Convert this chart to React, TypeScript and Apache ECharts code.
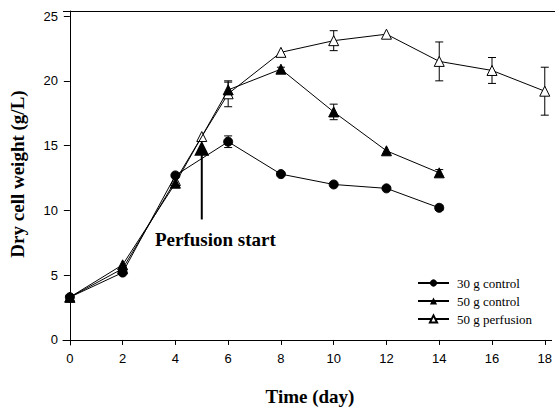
import React, { useEffect, useRef } from "react";
import * as echarts from "echarts";

const xTicks = [0, 2, 4, 6, 8, 10, 12, 14, 16, 18];
const yTicks = [0, 5, 10, 15, 20, 25];

const days30 = [0, 2, 4, 6, 8, 10, 12, 14];
const ctrl30 = [3.3, 5.2, 12.7, 15.3, 12.8, 12.0, 11.7, 10.2];
const ctrl30Err = [0, 0, 0, 0.45, 0, 0, 0, 0.2];

const days50 = [0, 2, 4, 6, 8, 10, 12, 14];
const ctrl50 = [3.3, 5.8, 12.1, 19.3, 20.9, 17.6, 14.6, 12.9];
const ctrl50Err = [0, 0, 0, 0.6, 0.15, 0.6, 0, 0.25];

const daysPerf = [0, 2, 4, 5, 6, 8, 10, 12, 14, 16, 18];
const perf = [3.3, 5.5, 12.3, 15.7, 19.0, 22.2, 23.1, 23.6, 21.5, 20.8, 19.2];
const perfErr = [0, 0, 0, 0, 1.0, 0, 0.77, 0, 1.5, 1.0, 1.85];

const arrowHead: [number, number][] = [[5, 14.8]];
const arrowShaft: [number, number][] = [[5, 14.3], [5, 9.3]];

const seriesNames = ["30 g control", "50 g control", "50 g perfusion"];

const serif = "'Liberation Serif', 'Times New Roman', serif";
const sans = "'Liberation Sans', Arial, sans-serif";

function pts(xs: number[], ys: number[]) {
  return xs.map((x, i) => [x, ys[i]]);
}
function errPts(xs: number[], ys: number[], es: number[]) {
  return xs.map((x, i) => [x, ys[i], es[i]]).filter((d) => d[2] > 0);
}

function errSeries(data: number[][]) {
  return {
    type: "custom",
    silent: true,
    z: 1,
    data,
    renderItem: (params: any, api: any) => {
      const x = api.value(0);
      const y = api.value(1);
      const e = api.value(2);
      const top = api.coord([x, y + e]);
      const bot = api.coord([x, y - e]);
      const w = 4;
      const style = { stroke: "#000", lineWidth: 1 };
      return {
        type: "group",
        children: [
          { type: "line", shape: { x1: top[0], y1: top[1], x2: bot[0], y2: bot[1] }, style },
          { type: "line", shape: { x1: top[0] - w, y1: top[1], x2: top[0] + w, y2: top[1] }, style },
          { type: "line", shape: { x1: bot[0] - w, y1: bot[1], x2: bot[0] + w, y2: bot[1] }, style },
        ],
      };
    },
  };
}

export default function App() {
  const ref = useRef<HTMLDivElement>(null);
  useEffect(() => {
    if (!ref.current) return;
    const chart = echarts.init(ref.current, null, { renderer: "svg" });
    const lineStyle = { color: "#000", width: 1 };
    chart.setOption({
      animation: false,
      backgroundColor: "#fff",
      grid: { left: 63, right: 0, top: 11, bottom: 62 },
      xAxis: {
        type: "value",
        min: -0.26,
        max: 18.26,
        splitLine: { show: false },
        axisLine: { lineStyle: { color: "#000", width: 1 } },
        axisTick: { length: 5, customValues: xTicks, lineStyle: { color: "#000" } },
        axisLabel: { customValues: xTicks, fontFamily: sans, fontSize: 13, color: "#000", margin: 7 },
      },
      yAxis: {
        type: "value",
        min: -0.39,
        max: 25.39,
        splitLine: { show: false },
        axisLine: { show: true, lineStyle: { color: "#000", width: 1 } },
        axisTick: { show: true, length: 6, customValues: yTicks, lineStyle: { color: "#000" } },
        axisLabel: { customValues: yTicks, fontFamily: sans, fontSize: 13, color: "#000", margin: 5 },
      },
      legend: {
        data: seriesNames,
        orient: "vertical",
        left: 417,
        top: 276,
        padding: 0,
        itemWidth: 31,
        itemHeight: 9,
        itemGap: 4,
        textStyle: { fontFamily: serif, fontSize: 13, lineHeight: 14, color: "#000", padding: [0, 0, 0, 3] },
      },
      graphic: [
        {
          type: "line",
          shape: { x1: 63, y1: 11.5, x2: 555, y2: 11.5 },
          style: { stroke: "#000", lineWidth: 1 },
        },
        {
          type: "text",
          left: 155,
          top: 230,
          style: { text: "Perfusion start", font: `bold 19px ${serif}`, fill: "#000" },
        },
        {
          type: "text",
          x: 310,
          y: 396,
          style: { text: "Time (day)", font: `bold 19px ${serif}`, fill: "#000", align: "center", verticalAlign: "middle" },
        },
        {
          type: "text",
          x: 17,
          y: 174,
          rotation: Math.PI / 2,
          style: { text: "Dry cell weight (g/L)", font: `bold 19px ${serif}`, fill: "#000", align: "center", verticalAlign: "middle" },
        },
      ],
      series: [
        {
          name: "50 g perfusion",
          type: "line",
          data: pts(daysPerf, perf),
          symbol: "triangle",
          symbolSize: 10,
          itemStyle: { color: "#fff", borderColor: "#000", borderWidth: 1 },
          lineStyle,
          z: 2,
        },
        {
          name: "50 g control",
          type: "line",
          data: pts(days50, ctrl50),
          symbol: "triangle",
          symbolSize: 10,
          itemStyle: { color: "#000", borderColor: "#000" },
          lineStyle,
          z: 3,
        },
        {
          name: "30 g control",
          type: "line",
          data: pts(days30, ctrl30),
          symbol: "circle",
          symbolSize: 9,
          itemStyle: { color: "#000", borderColor: "#000" },
          lineStyle,
          z: 3,
        },
        errSeries(errPts(daysPerf, perf, perfErr)),
        errSeries(errPts(days50, ctrl50, ctrl50Err)),
        errSeries(errPts(days30, ctrl30, ctrl30Err)),
        {
          name: "arrow",
          type: "line",
          data: arrowShaft,
          symbol: "none",
          lineStyle: { color: "#000", width: 2 },
          silent: true,
          z: 4,
        },
        {
          name: "arrowHead",
          type: "scatter",
          data: arrowHead,
          symbol: "triangle",
          symbolSize: 15,
          itemStyle: { color: "#000", opacity: 1 },
          silent: true,
          z: 4,
        },
      ],
    });
    return () => chart.dispose();
  }, []);
  return (
    <div
      ref={ref}
      style={{ position: "fixed", left: 0, top: 0, width: 555, height: 407 }}
    />
  );
}
